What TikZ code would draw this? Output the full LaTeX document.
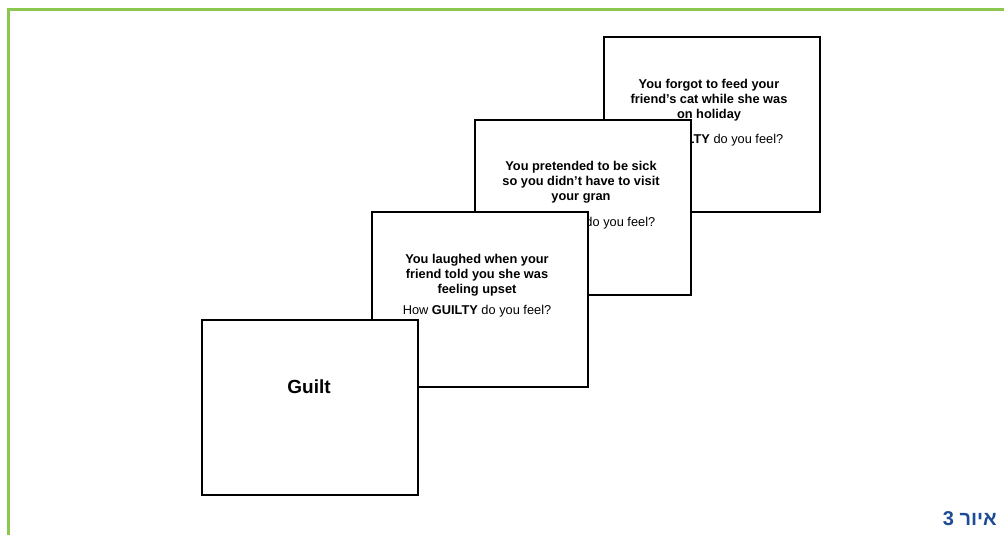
\documentclass[tikz,border=0pt]{standalone}
\usepackage{fontspec}
\setmainfont{Liberation Sans}
\newfontfamily\hebfont[Script=Hebrew]{Liberation Sans}
\TeXXeTstate=1
\definecolor{framegreen}{RGB}{140,200,80}
\definecolor{labelblue}{RGB}{30,75,150}
\tikzset{
  card/.style={draw=black, fill=white, line width=2pt, minimum width=216pt, minimum height=175pt, inner sep=0pt},
  cardtext/.style={align=center, font=\bfseries\fontsize{12.8}{15}\selectfont, inner sep=0pt},
  asktext/.style={align=center, font=\fontsize{12.8}{15}\selectfont, inner sep=0pt},
  bigtext/.style={font=\bfseries\fontsize{19}{22}\selectfont, inner sep=0pt},
  figlabel/.style={text=labelblue, font=\hebfont\bfseries\fontsize{20}{23}\selectfont, inner sep=0pt},
  frameline/.style={draw=framegreen, line width=3pt}
}
\begin{document}
\begin{tikzpicture}[x=1pt,y=-1pt]
\useasboundingbox[fill=white] (0,0) rectangle (1004,535);
\draw[frameline] (8,10) -- (1004,10);
\draw[frameline] (8,8.5) -- (8,535);
% card 4
\node[card] (c4) at (711.5,124.5) {};
\node[cardtext] (t4) at (709,100) {You forgot to feed your\\friend's cat while she was\\on holiday};
\node[asktext] (q4) at (709,140) {How \textbf{GUILTY} do you feel?};
% card 3
\node[card] (c3) at (582.5,207) {};
\node[cardtext] (t3) at (581,182) {You pretended to be sick\\so you didn't have to visit\\your gran};
\node[asktext] (q3) at (581,223) {How \textbf{GUILTY} do you feel?};
% card 2
\node[card] (c2) at (480,299) {};
\node[cardtext] (t2) at (477,275) {You laughed when your\\friend told you she was\\feeling upset};
\node[asktext] (q2) at (477,311) {How \textbf{GUILTY} do you feel?};
% card 1
\node[card] (c1) at (310,407.5) {};
\node[bigtext] (g1) at (309,387) {Guilt};
% label
\node[figlabel, anchor=east] (lbl) at (997,519) {\beginR איור 3\endR};
\end{tikzpicture}
\end{document}
